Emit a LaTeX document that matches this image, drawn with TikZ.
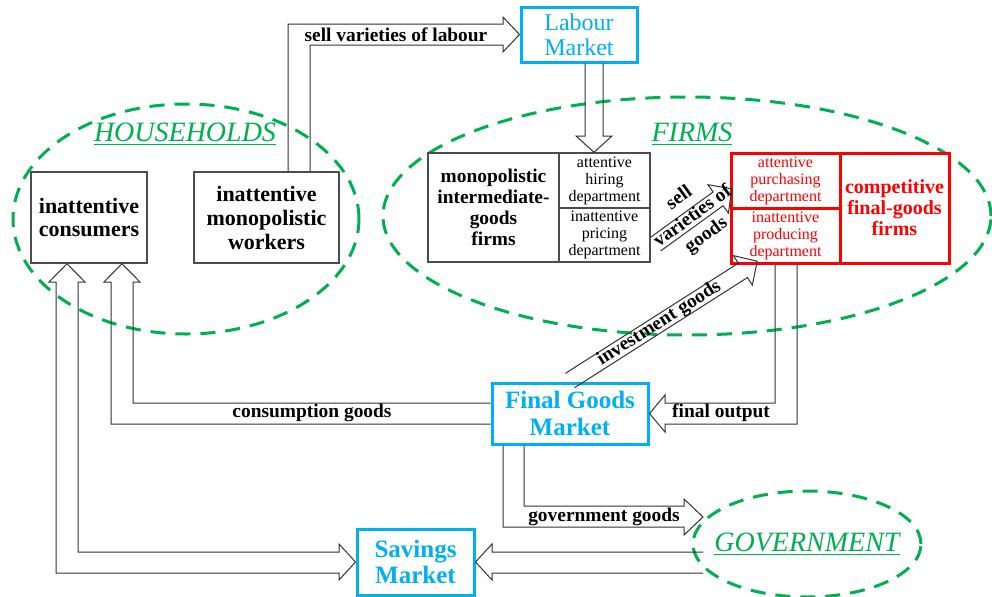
\documentclass[tikz,border=0pt]{standalone}
\usepackage{fontspec}
\setmainfont{Liberation Serif}
\usetikzlibrary{calc,shapes.geometric}
\definecolor{mcyan}{RGB}{0,176,240}
\definecolor{mgreen}{RGB}{0,176,80}
\definecolor{mred}{RGB}{255,0,0}
\tikzset{
  ha/.style={draw=black!80, line width=0.5pt, line join=miter},
  lbl/.style={font=\fontsize{9.7}{11.5}\selectfont\bfseries, inner sep=0pt},
  mkt/.style={draw=mcyan, line width=1.5pt, fill=white, text=mcyan, align=center, inner sep=1pt},
  hbox/.style={draw=black!70, line width=0.75pt, fill=white, align=center, inner sep=1pt},
  dept/.style={draw=black!70, line width=0.75pt, fill=white, align=center, inner sep=0.5pt, font=\fontsize{8}{8.5}\selectfont},
  rbox/.style={draw=mred, line width=1.5pt, fill=white, text=mred, align=center, inner sep=0.5pt},
  grp/.style={draw=mgreen, line width=1.5pt, dash pattern=on 7.5pt off 5pt, ellipse, inner sep=0pt},
  grplbl/.style={text=mgreen, font=\fontsize{14}{16}\selectfont\itshape, inner sep=0pt},
}
\begin{document}
\begin{tikzpicture}[x=0.5pt,y=-0.5pt]
\path[use as bounding box, fill=white] (0,0) rectangle (992,596);

% group ellipses
\node[grp, minimum width=173pt, minimum height=115pt] (hh) at (186,219) {};
\node[grp, minimum width=304pt, minimum height=119pt] (fi) at (687,216) {};
\node[grp, minimum width=114pt, minimum height=53pt] (gov) at (807,544) {};

% markets
\node[mkt, minimum width=58pt, minimum height=27.5pt, font=\fontsize{12}{12.5}\selectfont] (lab) at (579,34.5) {Labour\\Market};
\node[mkt, minimum width=78pt, minimum height=30.5pt, font=\fontsize{12.5}{13.5}\selectfont\bfseries] (fgm) at (570,413.5) {Final Goods\\Market};
\node[mkt, minimum width=58.5pt, minimum height=33pt, font=\fontsize{12.5}{13.3}\selectfont\bfseries] (sav) at (415.5,562) {Savings\\Market};

% households
\node[hbox, minimum width=58pt, minimum height=45.5pt, font=\fontsize{11}{11.5}\selectfont\bfseries] (con) at (89,217.5) {inattentive\\consumers};
\node[hbox, minimum width=72.5pt, minimum height=45.5pt, font=\fontsize{11}{12}\selectfont\bfseries] (wrk) at (266.5,217.5) {inattentive\\monopolistic\\workers};

% intermediate firms
\node[hbox, minimum width=65.5pt, minimum height=54.5pt, font=\fontsize{9.7}{10.5}\selectfont\bfseries] (intl) at (493.5,207.5) {monopolistic\\intermediate-\\goods\\firms};
\node[dept, minimum width=45.5pt, minimum height=27.5pt] (hire) at (604.5,180.5) {attentive\\hiring\\department};
\node[dept, minimum width=45.5pt, minimum height=27pt] (price) at (604.5,235) {inattentive\\pricing\\department};

% final-goods firms
\node[rbox, minimum width=54.5pt, minimum height=27.5pt, font=\fontsize{8}{8.5}\selectfont] (purch) at (785.5,180.5) {attentive\\purchasing\\department};
\node[rbox, minimum width=54.5pt, minimum height=27.5pt, font=\fontsize{8}{8.5}\selectfont] (prod) at (785.5,235.5) {inattentive\\producing\\department};
\node[rbox, minimum width=54.5pt, minimum height=55pt, font=\fontsize{10}{10.5}\selectfont\bfseries] (comp) at (894.5,208) {competitive\\final-goods\\firms};

% group labels
\node[grplbl] (hhl) at (185,134.5) {\underline{HOUSEHOLDS}};
\node[grplbl] (fil) at (692,134.5) {\underline{FIRMS}};
\node[grplbl] (govl) at (807,544) {\underline{GOVERNMENT}};

% sell varieties of labour
\draw[ha] (288,0 |- wrk.north) -- (288,24) -- (503,24) -- (503,17) -- (lab.west) -- (503,52) -- (503,45) -- (310,45) -- (310,0 |- wrk.north);
\node[lbl] (l1) at (396,35) {sell varieties of labour};

% labour market -> intermediate firms
\draw[ha] (585,0 |- lab.south) -- (585,136) -- (576,136) -- (594,0 |- hire.north) -- (612,136) -- (603,136) -- (603,0 |- lab.south);

% sell varieties of goods
\coordinate (sgS) at ($(price.east)+(5,9)$);
\begin{scope}[shift={(sgS)}, rotate=35.9]
  \draw[ha] (0,-8.5) -- (77,-8.5) -- (77,-17.5) -- (94,0) -- (77,17.5) -- (77,8.5) -- (0,8.5);
  \node[lbl, rotate=35.9, align=center] (sgl) at (46,0) {sell\\varieties of\\goods};
\end{scope}

% investment goods
\coordinate (igS) at ($(fgm.north)+(0,-1)$);
\begin{scope}[shift={(igS)}, rotate=32.5]
  \draw[ha] (0,-8.5) -- (205,-8.5) -- (205,-17.5) -- (222,0) -- (205,17.5) -- (205,8.5) -- (0,8.5);
  \node[lbl, rotate=32.5] (igl) at (106,0) {investment goods};
\end{scope}

% final output
\draw[ha] (775,0 |- prod.south) -- (775,403) -- (665,403) -- (665,395) -- (fgm.east) -- (665,432) -- (665,424) -- (797,424) -- (797,0 |- prod.south);
\node[lbl] (l2) at (721,413) {final output};

% consumption goods
\draw[ha] (fgm.west |- 0,403) -- (133,403) -- (133,282) -- (140,282) -- (122,0 |- con.south) -- (104,282) -- (111,282) -- (111,424) -- (fgm.west |- 0,424);
\node[lbl] (l3) at (312,413) {consumption goods};

% consumers <-> savings market
\draw[ha] (49,282) -- (67,0 |- con.south) -- (85,282) -- (78,282) -- (78,552) -- (339,552) -- (339,544) -- (sav.west) -- (339,580) -- (339,573) -- (56,573) -- (56,282) -- cycle;

% government -> savings market
\coordinate (gvo) at (703,552);
\coordinate (gvu) at (703,573);
\draw[ha] (gvo) -- (492,552) -- (492,544) -- (sav.east) -- (492,580) -- (492,573) -- (gvu);

% government goods
\coordinate (govin) at (703,517);
\draw[ha] (524,0 |- fgm.south) -- (524,506) -- (684,506) -- (684,499) -- (govin) -- (684,535) -- (684,527) -- (503,527) -- (503,0 |- fgm.south);
\node[lbl] (l4) at (604,517) {government goods};

\end{tikzpicture}
\end{document}
